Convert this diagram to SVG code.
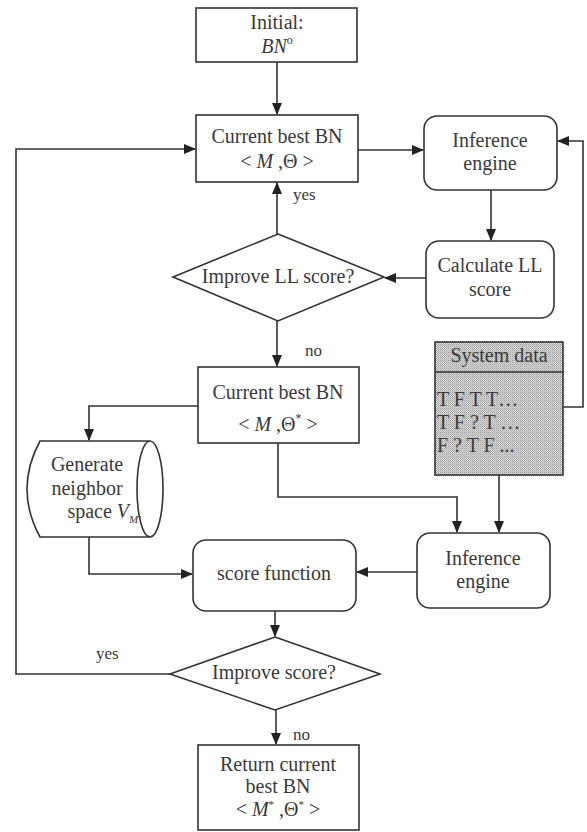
<svg xmlns="http://www.w3.org/2000/svg" width="587" height="832" viewBox="0 0 587 832">
<defs>
<marker id="arr" markerUnits="userSpaceOnUse" markerWidth="12" markerHeight="10" refX="11" refY="5" orient="auto">
<path d="M0,0 L12,5 L0,10 Z" fill="#222"/>
</marker>
<pattern id="dots" width="2" height="2" patternUnits="userSpaceOnUse">
<rect width="2" height="2" fill="#dcdcdc"/>
<rect width="1" height="1" fill="#9a9a9a"/>
<rect x="1" y="1" width="1" height="1" fill="#b4b4b4"/>
</pattern>
</defs>
<style>
.box{fill:#fff;stroke:#333;stroke-width:1.6}
.ln{fill:none;stroke:#333;stroke-width:1.6}
.t{font-family:"Liberation Serif","Times New Roman",serif;font-size:20px;fill:#3a3a3a;text-anchor:middle}
.s{font-family:"Liberation Serif","Times New Roman",serif;font-size:17px;fill:#3a3a3a}
.l{font-family:"Liberation Serif","Times New Roman",serif;font-size:20px;fill:#3a3a3a}
.i{font-style:italic}
</style>
<rect width="587" height="832" fill="#fff"/>

<g id="connectors">
<path class="ln" d="M277,62 L277,114" marker-end="url(#arr)"/>
<path class="ln" d="M358,150 L423,150" marker-end="url(#arr)"/>
<path class="ln" d="M491,190 L491,240" marker-end="url(#arr)"/>
<path class="ln" d="M426,278 L385,278" marker-end="url(#arr)"/>
<path class="ln" d="M277,234 L277,183" marker-end="url(#arr)"/>
<path class="ln" d="M277,321 L277,366" marker-end="url(#arr)"/>
<path class="ln" d="M198,406 L89,406 L89,440" marker-end="url(#arr)"/>
<path class="ln" d="M89,537 L89,574 L192,574" marker-end="url(#arr)"/>
<path class="ln" d="M278,443 L278,497 L457,497 L457,532" marker-end="url(#arr)"/>
<path class="ln" d="M563,407 L583,407 L583,141 L558,141" marker-end="url(#arr)"/>
<path class="ln" d="M499,475 L499,532" marker-end="url(#arr)"/>
<path class="ln" d="M417,572 L357,572" marker-end="url(#arr)"/>
<path class="ln" d="M275,611 L275,636" marker-end="url(#arr)"/>
<path class="ln" d="M170,674 L16,674 L16,149 L195,149" marker-end="url(#arr)"/>
<path class="ln" d="M276,710 L276,744" marker-end="url(#arr)"/>
<text class="s" x="293" y="200">yes</text>
<text class="s" x="305" y="356">no</text>
<text class="s" x="96" y="659">yes</text>
<text class="s" x="293" y="740">no</text>
</g>

<g id="initial">
<rect class="box" x="196" y="8" width="161" height="54"/>
<text class="t" x="277" y="29">Initial:</text>
<text class="t" x="277" y="53"><tspan class="i">BN</tspan><tspan font-size="12" dy="-9">o</tspan></text>
</g>

<g id="current-best-1">
<rect class="box" x="196" y="115" width="162" height="67"/>
<text class="t" x="277" y="143">Current best BN</text>
<text class="t" x="277" y="168">&lt; <tspan class="i">M</tspan> ,Θ &gt;</text>
</g>

<g id="inference-1">
<rect class="box" x="424" y="116" width="133" height="74" rx="13"/>
<text class="t" x="490" y="147">Inference</text>
<text class="t" x="490" y="170">engine</text>
</g>

<g id="calc-ll">
<rect class="box" x="426" y="241" width="128" height="77" rx="13"/>
<text class="t" x="490" y="272">Calculate LL</text>
<text class="t" x="490" y="296">score</text>
</g>

<g id="improve-ll">
<polygon class="box" points="278,234 384,277 278,321 173,277"/>
<text class="t" x="278" y="283">Improve LL score?</text>
</g>

<g id="current-best-2">
<rect class="box" x="198" y="367" width="161" height="76"/>
<text class="t" x="278" y="399">Current best BN</text>
<text class="t" x="278" y="431">&lt; <tspan class="i">M</tspan> ,Θ<tspan font-size="12" dy="-9">*</tspan><tspan dy="9"> &gt;</tspan></text>
</g>

<g id="neighbor">
<path class="box" d="M150,441 L40,441 Q14,489 40,537 L150,537"/>
<ellipse class="box" cx="150" cy="489" rx="13" ry="48"/>
<text class="t" x="87" y="471">Generate</text>
<text class="t" x="87" y="495">neighbor</text>
<text class="t" x="104" y="518">space <tspan class="i">V</tspan><tspan class="i" font-size="11" dy="5">M'</tspan></text>
</g>

<g id="system-data">
<rect x="435" y="342" width="128" height="133" fill="url(#dots)" stroke="#333" stroke-width="1.6"/>
<line class="ln" x1="435" y1="372" x2="563" y2="372"/>
<text class="t" x="499" y="362">System data</text>
<text class="l" x="437" y="406">T F T T…</text>
<text class="l" x="437" y="429">T F ? T …</text>
<text class="l" x="437" y="452">F ? T F ...</text>
</g>

<g id="inference-2">
<rect class="box" x="417" y="533" width="133" height="75" rx="13"/>
<text class="t" x="483" y="565">Inference</text>
<text class="t" x="483" y="588">engine</text>
</g>

<g id="score-function">
<rect class="box" x="193" y="540" width="163" height="71" rx="13"/>
<text class="t" x="274" y="580">score function</text>
</g>

<g id="improve-score">
<polygon class="box" points="275,637 380,674 275,710 170,674"/>
<text class="t" x="274" y="679">Improve score?</text>
</g>

<g id="return">
<rect class="box" x="198" y="745" width="161" height="85"/>
<text class="t" x="278" y="771" font-size="19">Return current</text>
<text class="t" x="278" y="793" font-size="19">best BN</text>
<text class="t" x="278" y="816" font-size="19">&lt; <tspan class="i">M</tspan><tspan font-size="11" dy="-8">*</tspan><tspan dy="8"> ,Θ</tspan><tspan font-size="11" dy="-8">*</tspan><tspan dy="8"> &gt;</tspan></text>
</g>
</svg>
